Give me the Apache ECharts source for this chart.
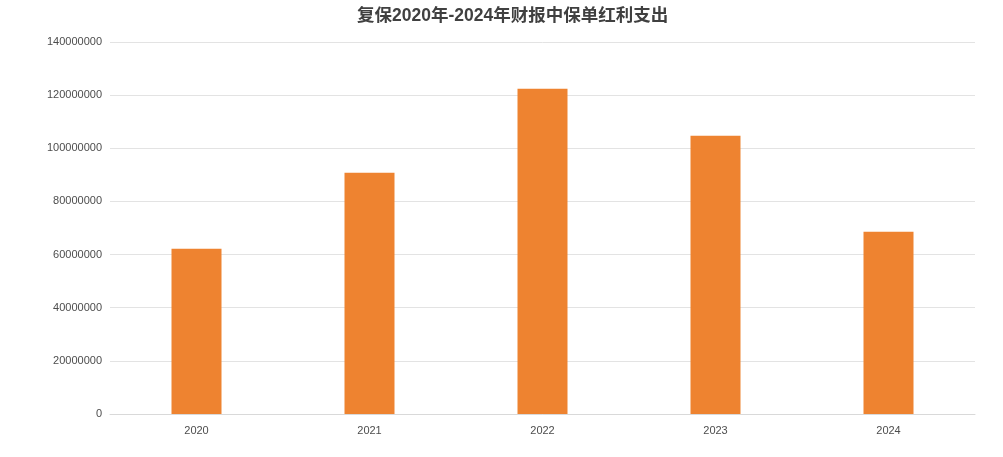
<!DOCTYPE html>
<html><head><meta charset="utf-8">
<script src="https://cdn.jsdelivr.net/npm/echarts@6/dist/echarts.min.js"></script>
<style>html,body{margin:0;padding:0;background:#fff}#c{width:1003px;height:457px}</style>
</head><body><div id="c"></div>
<script>
const titleText = '复保2020年-2024年财报中保单红利支出';
const categories = ['2020', '2021', '2022', '2023', '2024'];
const dividends = [62200000, 90800000, 122400000, 104700000, 68600000];
const yTicks = [0, 20000000, 40000000, 60000000, 80000000, 100000000, 120000000, 140000000];

const chart = echarts.init(document.getElementById('c'));
chart.setOption({
  animation: false,
  title: {
    text: titleText, left: 352, top: 2,
    textStyle: {fontSize: 17.5, fontWeight: 'bold', color: '#404040', fontFamily: 'Liberation Sans, Noto Sans CJK SC, sans-serif'}
  },
  grid: {left: 110, right: 28, top: 42, bottom: 43},
  xAxis: {
    type: 'category', data: categories,
    axisLine: {lineStyle: {color: '#d9d9d9'}},
    axisTick: {show: false},
    axisLabel: {color: '#4d4d4d', fontSize: 11, margin: 11, fontFamily: 'Liberation Sans, sans-serif'}
  },
  yAxis: {
    type: 'value', min: yTicks[0], max: yTicks[yTicks.length - 1], interval: yTicks[1] - yTicks[0],
    axisLine: {show: false}, axisTick: {show: false},
    splitLine: {lineStyle: {color: '#e3e3e3'}},
    axisLabel: {color: '#4d4d4d', fontSize: 11, margin: 8, fontFamily: 'Liberation Sans, sans-serif',
      formatter: function (v) { return String(v); }}
  },
  series: [{
    type: 'bar', data: dividends, barWidth: 50,
    itemStyle: {color: '#ee8330'}
  }]
});
</script></body></html>
